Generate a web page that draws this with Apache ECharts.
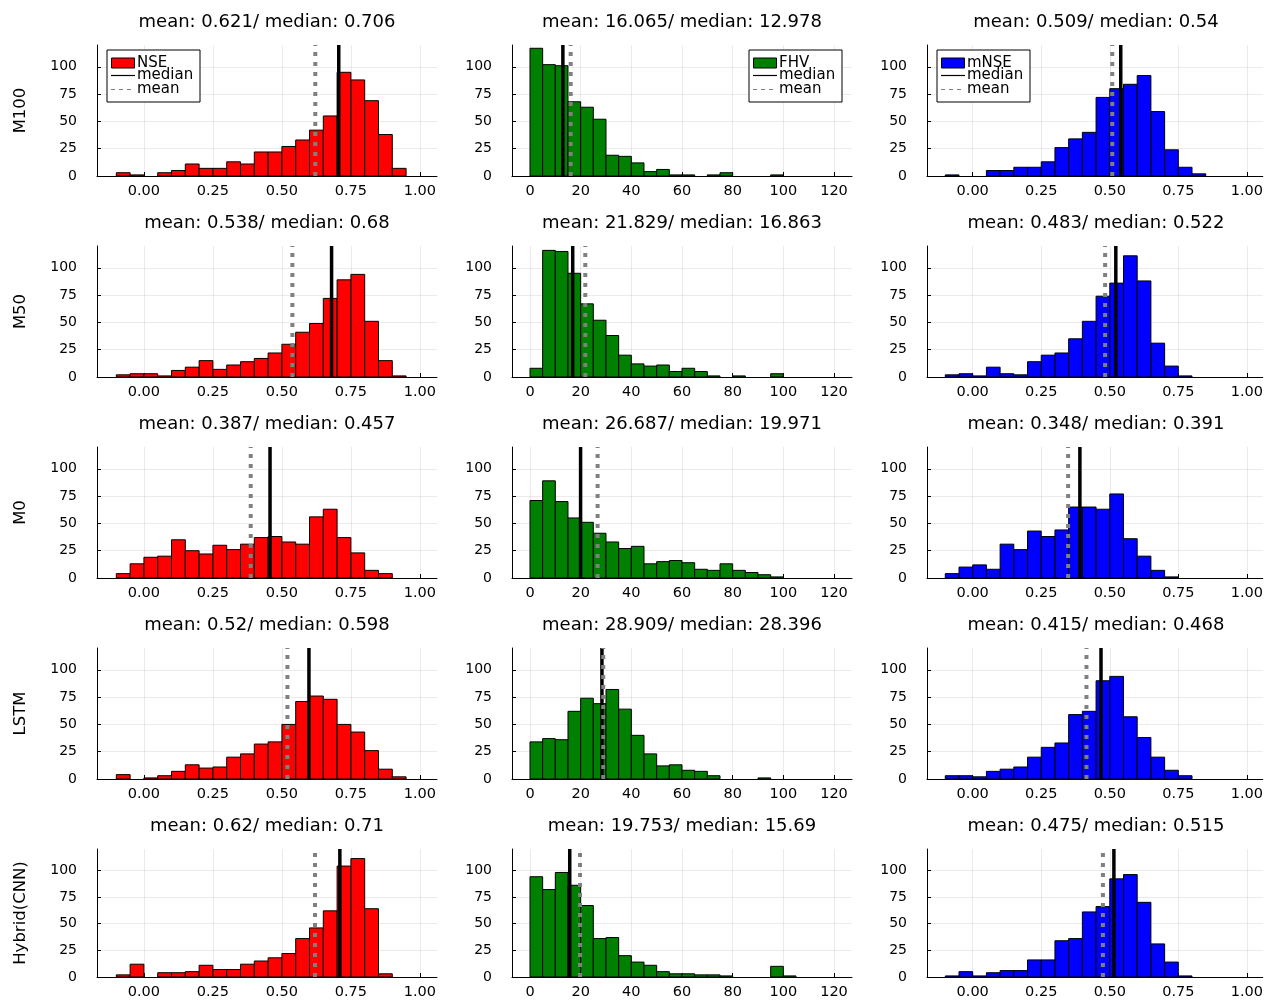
<!DOCTYPE html>
<html><head><meta charset="utf-8">
<script src="https://cdn.jsdelivr.net/npm/echarts@6/dist/echarts.min.js"></script>
<style>html,body{margin:0;padding:0;background:#fff}#c{width:1266px;height:1000px}</style>
</head><body><div id="c"></div>
<script>
// ---------------- DATA ----------------
const modelNames = ['M100', 'M50', 'M0', 'LSTM', 'Hybrid(CNN)'];
const metricNames = ['NSE', 'FHV', 'mNSE'];

// histogram bin definitions
const ratioBinStart = -0.1, ratioBinWidth = 0.05;   // NSE and mNSE
const fhvBinStart = 0, fhvBinWidth = 5;              // FHV

// counts per bin (NSE / mNSE bins start at -0.10, FHV bins start at 0)
const nseCounts_M100 = [3,1,0,3,5,11,7,7,13,11,22,22,27,33,42,55,95,88,69,38,7];
const nseCounts_M50  = [2,3,3,1,6,9,15,7,11,14,17,22,30,41,49,72,89,94,51,15,1];
const nseCounts_M0   = [4,13,19,20,35,25,22,30,26,31,37,38,33,31,56,63,37,23,7,4];
const nseCounts_LSTM = [4,0,1,3,7,13,10,11,20,23,32,34,50,71,76,73,50,43,26,9,2];
const nseCounts_Hybrid = [2,12,0,4,4,5,11,7,7,12,15,18,22,36,46,62,104,111,64,3];

const fhvCounts_M100 = [117,102,101,68,63,52,19,18,12,4,6,1,1,0,1,3,0,0,0,1];
const fhvCounts_M50  = [8,116,115,95,67,52,38,20,12,10,11,5,8,5,1,0,1,0,0,3];
const fhvCounts_M0   = [71,89,70,55,51,41,33,27,29,13,15,16,14,8,7,13,7,5,3,1];
const fhvCounts_LSTM = [34,37,36,62,74,69,82,64,40,23,12,13,8,7,3,0,0,0,1];
const fhvCounts_Hybrid = [94,82,98,86,67,36,37,20,14,11,5,3,3,2,2,1,0,0,0,10,1];

const mnseCounts_M100 = [1,0,0,5,5,8,8,13,26,34,40,72,80,84,92,59,24,8,2];
const mnseCounts_M50  = [2,3,1,9,3,2,14,20,22,35,51,74,86,111,88,31,10,1];
const mnseCounts_M0   = [4,10,12,8,31,26,43,38,44,65,65,63,77,36,20,7,1];
const mnseCounts_LSTM = [3,3,2,7,9,11,20,29,33,59,62,90,94,57,38,20,8,3];
const mnseCounts_Hybrid = [1,5,1,4,6,6,16,16,34,36,61,66,92,96,70,31,14,1];

const nseMean    = [0.621, 0.538, 0.387, 0.52, 0.62];
const nseMedian  = [0.706, 0.68, 0.457, 0.598, 0.71];
const fhvMean    = [16.065, 21.829, 26.687, 28.909, 19.753];
const fhvMedian  = [12.978, 16.863, 19.971, 28.396, 15.69];
const mnseMean   = [0.509, 0.483, 0.348, 0.415, 0.475];
const mnseMedian = [0.54, 0.522, 0.391, 0.468, 0.515];

const ratioTicks = [0, 0.25, 0.5, 0.75, 1.0];
const fhvTicks = [0, 20, 40, 60, 80, 100, 120];
const countTicks = [0, 25, 50, 75, 100];

// ---------------- LAYOUT / STYLE ----------------
const FONT = 'DejaVu Sans';
const metricColors = ['#ff0000', '#008000', '#0000ff'];
const plotLeft = [97, 512, 927];
const plotWidth = [340, 340, 338];
const rowTop0 = 45, rowStep = 201, plotHeight = 131;
const xRange = [[-0.170, 1.062], [-7.1, 127.1], [-0.1667, 1.058]];
const yMax = 120;

const countsTable = [
  [nseCounts_M100, fhvCounts_M100, mnseCounts_M100],
  [nseCounts_M50, fhvCounts_M50, mnseCounts_M50],
  [nseCounts_M0, fhvCounts_M0, mnseCounts_M0],
  [nseCounts_LSTM, fhvCounts_LSTM, mnseCounts_LSTM],
  [nseCounts_Hybrid, fhvCounts_Hybrid, mnseCounts_Hybrid]
];
const meanTable = [nseMean, fhvMean, mnseMean];
const medianTable = [nseMedian, fhvMedian, mnseMedian];
const binStarts = [ratioBinStart, fhvBinStart, ratioBinStart];
const binWidths = [ratioBinWidth, fhvBinWidth, ratioBinWidth];
const xTicksFor = [ratioTicks, fhvTicks, ratioTicks];

const grids = [], xAxes = [], yAxes = [], series = [], titles = [], graphics = [];

function renderBar(params, api) {
  const p0 = api.coord([api.value(0), api.value(2)]);
  const p1 = api.coord([api.value(1), 0]);
  return {
    type: 'rect',
    shape: { x: p0[0], y: p0[1], width: p1[0] - p0[0], height: p1[1] - p0[1] },
    style: { fill: api.visual('color'), stroke: '#000', lineWidth: 1 }
  };
}

let k = 0;
for (let r = 0; r < modelNames.length; r++) {
  for (let c = 0; c < 3; c++) {
    const top = rowTop0 + r * rowStep;
    grids.push({ left: plotLeft[c], top: top, width: plotWidth[c], height: plotHeight, containLabel: false });
    const ticks = xTicksFor[c];
    xAxes.push({
      type: 'value', gridIndex: k, min: xRange[c][0], max: xRange[c][1],
      axisLine: { show: true, onZero: false, lineStyle: { color: '#000', width: 1 } },
      axisTick: { show: true, inside: true, length: 4, customValues: ticks, lineStyle: { color: '#000' } },
      axisLabel: {
        show: true, customValues: ticks, margin: 8, color: '#000', fontFamily: FONT, fontSize: 14.5,
        formatter: c === 1 ? (v => String(Math.round(v))) : (v => v.toFixed(2))
      },
      splitLine: { show: true, lineStyle: { color: 'rgba(0,0,0,0.08)', width: 1 } }
    });
    const yA = {
      type: 'value', gridIndex: k, min: 0, max: yMax,
      axisLine: { show: true, onZero: false, lineStyle: { color: '#000', width: 1 } },
      axisTick: { show: true, inside: true, length: 4, customValues: countTicks, lineStyle: { color: '#000' } },
      axisLabel: { show: true, customValues: countTicks, margin: 20, color: '#000', fontFamily: FONT, fontSize: 14 },
      splitLine: { show: true, lineStyle: { color: 'rgba(0,0,0,0.08)', width: 1 } }
    };
    if (c === 0) {
      yA.name = modelNames[r];
      yA.nameLocation = 'middle';
      yA.nameRotate = 90;
      yA.nameGap = 68;
      yA.nameTextStyle = { color: '#000', fontFamily: FONT, fontSize: 16.5 };
    }
    yAxes.push(yA);

    const counts = countsTable[r][c];
    const data = [];
    for (let i = 0; i < counts.length; i++) {
      if (counts[i] > 0) {
        const s = binStarts[c] + i * binWidths[c];
        data.push([s, s + binWidths[c], counts[i]]);
      }
    }
    series.push({
      type: 'custom', name: metricNames[c], xAxisIndex: k, yAxisIndex: k,
      renderItem: renderBar, data: data, encode: { x: [0, 1], y: 2 },
      itemStyle: { color: metricColors[c] }, z: 2, silent: true
    });
    const med = medianTable[c][r], mean = meanTable[c][r];
    series.push({
      type: 'line', name: 'median', xAxisIndex: k, yAxisIndex: k,
      data: [[med, 0], [med, yMax]], symbol: 'none', z: 3, silent: true,
      lineStyle: { color: '#000', width: 3.5 }
    });
    series.push({
      type: 'line', name: 'mean', xAxisIndex: k, yAxisIndex: k,
      data: [[mean, 0], [mean, yMax]], symbol: 'none', z: 4, silent: true,
      lineStyle: { color: '#808080', width: 4, type: [4, 6], cap: 'butt' }
    });

    titles.push({
      text: 'mean: ' + String(mean) + '/ median: ' + String(med),
      left: plotLeft[c] + plotWidth[c] / 2, textAlign: 'center',
      top: top - 34, padding: 0,
      textStyle: { fontFamily: FONT, fontSize: 18, fontWeight: 'normal', color: '#000', lineHeight: 22 }
    });
    k++;
  }
}

// legends (first row), drawn as graphics
const legendBoxLeft = [107, 749, 937];
for (let c = 0; c < 3; c++) {
  const x0 = legendBoxLeft[c], y0 = 50;
  graphics.push({ type: 'rect', shape: { x: x0, y: y0, width: 93, height: 52 },
    style: { fill: '#fff', stroke: '#000', lineWidth: 1 }, z: 100 });
  graphics.push({ type: 'rect', shape: { x: x0 + 4.5, y: y0 + 8, width: 23, height: 10 },
    style: { fill: metricColors[c], stroke: '#000', lineWidth: 1 }, z: 101 });
  graphics.push({ type: 'line', shape: { x1: x0 + 4, y1: y0 + 25.5, x2: x0 + 28, y2: y0 + 25.5 },
    style: { stroke: '#000', lineWidth: 1.2 }, z: 101 });
  graphics.push({ type: 'line', shape: { x1: x0 + 4, y1: y0 + 39.5, x2: x0 + 28, y2: y0 + 39.5 },
    style: { stroke: '#808080', lineWidth: 1.2, lineDash: [4, 4] }, z: 101 });
  const labels = [metricNames[c], 'median', 'mean'];
  const ys = [y0 + 13, y0 + 25.5, y0 + 39];
  for (let i = 0; i < 3; i++) {
    graphics.push({ type: 'text', x: x0 + 30, y: ys[i], z: 101,
      style: { text: labels[i], fill: '#000', font: '15px "DejaVu Sans"', verticalAlign: 'middle', align: 'left' } });
  }
}

const chart = echarts.init(document.getElementById('c'), null, { renderer: 'canvas' });
chart.setOption({
  animation: false,
  backgroundColor: '#fff',
  title: titles,
  grid: grids,
  xAxis: xAxes,
  yAxis: yAxes,
  series: series,
  graphic: graphics
});
</script>
</body></html>
